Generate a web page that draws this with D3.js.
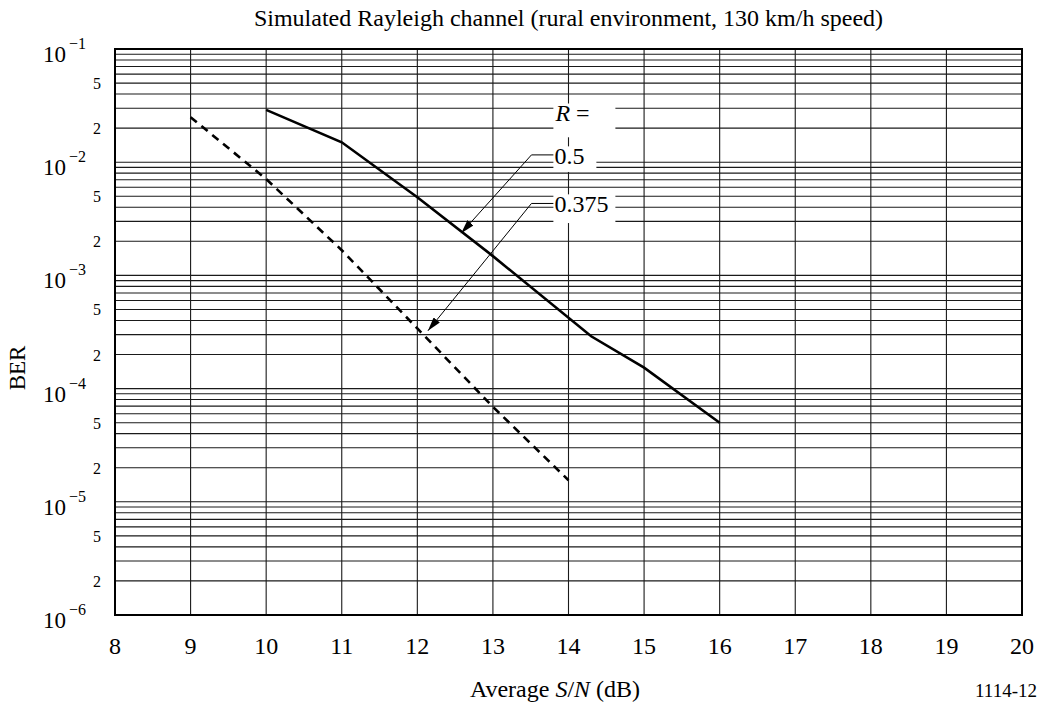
<!DOCTYPE html>
<html>
<head>
<meta charset="utf-8">
<script src="https://cdn.jsdelivr.net/npm/d3@7"></script>
<style>
  body { margin: 0; background: #fff; }
  text { font-family: "Liberation Serif", "Times New Roman", serif; fill: #000; }
</style>
</head>
<body>
<div id="vis"></div>
<script>
/* BER vs average S/N, simulated Rayleigh channel */

// Data
var snrHalf = [10, 11, 12, 13, 14.3, 15, 16];
var berHalf = [2.9e-2, 1.5e-2, 4.9e-3, 1.48e-3, 2.9e-4, 1.53e-4, 5.0e-5];
var snrThreeEighths = [9, 10, 11, 12, 13, 14];
var berThreeEighths = [2.5e-2, 7.1e-3, 1.67e-3, 3.4e-4, 6.9e-5, 1.55e-5];

var xTicks = [8, 9, 10, 11, 12, 13, 14, 15, 16, 17, 18, 19, 20];
var decades = [-1, -2, -3, -4, -5, -6];
var minorLabels = [5, 2];

// labels: text, label anchor (x, ber), arrow tip (x, ber)
var rateLabels = ['0.5', '0.375'];
var labelBer = [1.16e-2, 4.32e-3];
var tipSnr = [12.58, 12.14];
var tipBer = [2.36e-3, 3.24e-4];

var width = 1043;
var height = 706;
var margin = { top: 49, right: 21, bottom: 91, left: 115 };
var drawWidth = width - margin.left - margin.right;
var drawHeight = height - margin.top - margin.bottom;

var svg = d3.select('#vis')
    .append('svg')
    .attr('width', width)
    .attr('height', height);

var g = svg.append('g')
    .attr('transform', `translate(${margin.left},${margin.top})`);

/************************************** Scales ***************************************/
var xScale = d3.scaleLinear()
    .domain([8, 20])
    .range([0, drawWidth]);

var yScale = d3.scaleLog()
    .domain([1e-6, 1e-1])
    .range([drawHeight, 0]);

/************************************** Grid ***************************************/
var hLines = [];
decades.forEach(function(d) {
    if (d === -1) return;
    for (var m = 1; m <= 9; m++) hLines.push(m * Math.pow(10, d));
});

g.selectAll('.hgrid')
    .data(hLines)
    .enter().append('line')
    .attr('class', 'hgrid')
    .attr('x1', 0).attr('x2', drawWidth)
    .attr('y1', d => yScale(d)).attr('y2', d => yScale(d))
    .attr('stroke', '#1a1a1a')
    .attr('stroke-width', 1.1);

g.selectAll('.vgrid')
    .data(xTicks.slice(1, -1))
    .enter().append('line')
    .attr('class', 'vgrid')
    .attr('x1', d => xScale(d)).attr('x2', d => xScale(d))
    .attr('y1', 0).attr('y2', drawHeight)
    .attr('stroke', '#1a1a1a')
    .attr('stroke-width', 1.1);

/************************************** Curves ***************************************/
var line = d3.line()
    .x(d => xScale(d[0]))
    .y(d => yScale(d[1]));

g.append('path')
    .datum(d3.zip(snrHalf, berHalf))
    .attr('d', line)
    .attr('fill', 'none')
    .attr('stroke', '#000')
    .attr('stroke-width', 2.6);

g.append('path')
    .datum(d3.zip(snrThreeEighths, berThreeEighths))
    .attr('d', line)
    .attr('fill', 'none')
    .attr('stroke', '#000')
    .attr('stroke-width', 2.6)
    .attr('stroke-dasharray', '8,6');

/************************************** Labels with leaders ***************************************/
var labelX = 13.8;
var leaderX = 13.51;

// white boxes behind the labels
var boxes = [
    { x: labelX, y0: 3.3e-2, y1: 1.66e-2 },
    { x: labelX, y0: 1.38e-2, y1: 8.2e-3, w: 43 },
    { x: labelX, y0: 5.2e-3, y1: 2.9e-3 }
];
g.selectAll('.lbox')
    .data(boxes)
    .enter().append('rect')
    .attr('x', d => xScale(d.x))
    .attr('y', d => yScale(d.y0))
    .attr('width', d => d.w || 62)
    .attr('height', d => yScale(d.y1) - yScale(d.y0))
    .attr('fill', '#fff');

var rLabel = g.append('text')
    .attr('x', xScale(labelX) + 2)
    .attr('y', yScale(2.3e-2))
    .attr('font-size', 24);
rLabel.append('tspan').attr('font-style', 'italic').text('R');
rLabel.append('tspan').text(' =');

svg.append('defs').append('marker')
    .attr('id', 'arrow')
    .attr('viewBox', '0 0 14 8')
    .attr('refX', 14).attr('refY', 4)
    .attr('markerWidth', 14).attr('markerHeight', 8)
    .attr('markerUnits', 'userSpaceOnUse')
    .attr('orient', 'auto')
    .append('path')
    .attr('d', 'M0,0 L14,4 L0,8 Z')
    .attr('fill', '#000');

rateLabels.forEach(function(t, i) {
    g.append('path')
        .attr('d', `M${xScale(labelX)},${yScale(labelBer[i])}` +
                   `L${xScale(leaderX)},${yScale(labelBer[i])}` +
                   `L${xScale(tipSnr[i])},${yScale(tipBer[i])}`)
        .attr('fill', 'none')
        .attr('stroke', '#000')
        .attr('stroke-width', 1)
        .attr('marker-end', 'url(#arrow)');

    g.append('text')
        .attr('x', xScale(labelX) + 1)
        .attr('y', yScale(labelBer[i]) + 9)
        .attr('font-size', 24)
        .text(t);
});

/************************************** Frame ***************************************/
g.append('rect')
    .attr('x', 0).attr('y', 0)
    .attr('width', drawWidth).attr('height', drawHeight)
    .attr('fill', 'none')
    .attr('stroke', '#000')
    .attr('stroke-width', 2);

/************************************** Axis labels ***************************************/
g.selectAll('.xtick')
    .data(xTicks)
    .enter().append('text')
    .attr('x', d => xScale(d))
    .attr('y', drawHeight + 39)
    .attr('text-anchor', 'middle')
    .attr('font-size', 24)
    .text(d => d);

var major = g.selectAll('.ymajor')
    .data(decades)
    .enter().append('text')
    .attr('x', -72)
    .attr('y', d => yScale(Math.pow(10, d)) + 13)
    .attr('font-size', 23);
major.append('tspan').text('10');
major.append('tspan')
    .attr('dx', 3)
    .attr('dy', -13)
    .attr('font-size', 16)
    .text(d => '\u2212' + Math.abs(d));

var minorVals = [];
decades.slice(1).forEach(function(d) {
    minorLabels.forEach(function(m) { minorVals.push(m * Math.pow(10, d)); });
});
g.selectAll('.yminor')
    .data(minorVals)
    .enter().append('text')
    .attr('x', -18)
    .attr('y', d => yScale(d) + 6)
    .attr('text-anchor', 'middle')
    .attr('font-size', 16)
    .text(d => Math.round(d / Math.pow(10, Math.floor(Math.log10(d) + 1e-9))));

svg.append('text')
    .attr('x', margin.left + drawWidth / 2)
    .attr('y', 26)
    .attr('text-anchor', 'middle')
    .attr('font-size', 24)
    .text('Simulated Rayleigh channel (rural environment, 130 km/h speed)');

var xTitle = svg.append('text')
    .attr('x', 555)
    .attr('y', 697)
    .attr('text-anchor', 'middle')
    .attr('font-size', 24);
xTitle.append('tspan').text('Average ');
xTitle.append('tspan').attr('font-style', 'italic').text('S');
xTitle.append('tspan').text('/');
xTitle.append('tspan').attr('font-style', 'italic').text('N');
xTitle.append('tspan').text(' (dB)');

svg.append('text')
    .attr('transform', 'translate(25,368) rotate(-90)')
    .attr('text-anchor', 'middle')
    .attr('font-size', 23)
    .text('BER');

svg.append('text')
    .attr('x', 1037)
    .attr('y', 697)
    .attr('text-anchor', 'end')
    .attr('font-size', 19)
    .text('1114-12');
</script>
</body>
</html>
